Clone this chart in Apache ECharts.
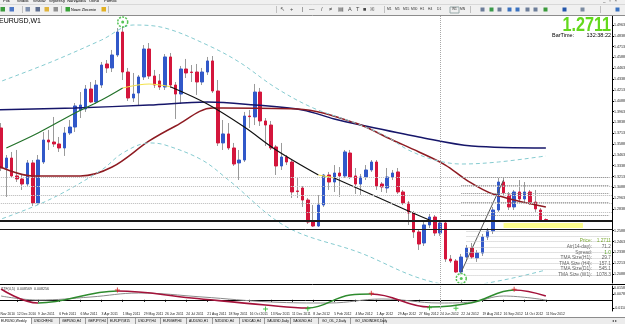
<!DOCTYPE html>
<html>
<head>
<meta charset="utf-8">
<title>EURUSD,W1</title>
<script src="https://cdn.jsdelivr.net/npm/echarts@6.0.0/dist/echarts.min.js"></script>
<style>
  html, body { margin: 0; padding: 0; background: #fff; overflow: hidden; }
  #main { width: 625px; height: 324px; }
</style>
</head>
<body>
<div id="main"></div>
<script>
// EURUSD weekly bars, first bar = week of 21 Nov 2010 (category 1)
const opens = [1.3774,1.3312,1.3427,1.3220,1.3185,1.3127,1.3370,1.2908,1.3381,1.3635,1.3612,1.3589,1.3543,1.3716,1.3785,1.3982,1.3993,1.4224,1.4074,1.4270,
  1.4513,1.4467,1.4617,1.4882,1.4420,1.4120,1.4178,1.4363,1.4686,1.4374,1.4317,1.4247,1.4594,1.4270,1.4166,1.4455,1.4420,1.4420,1.4305,1.4420,
  1.4548,1.4201,1.3601,1.3705,1.3543,1.3370,1.3404,1.3912,1.3901,1.4189,1.3855,1.3808,1.3555,1.3335,1.3439,1.3381,1.3047,1.3081,1.2942,1.2688,
  1.2642,1.2885,1.3231,1.3150,1.3254,1.3220,1.3485,1.3220,1.3127,1.3208,1.3289,1.3381,1.3127,1.3081,1.3208,1.3266,1.3035,1.2908,1.2792,1.2573,
  1.2446,1.2654,1.2746,1.2561,1.2677,1.2261,1.2238,1.2111,1.2284,1.2388,1.2273,1.2330,1.2515,1.2585,1.2827,1.3150,1.3000,1.2862,1.3035,1.2954,
  1.3035,1.2919,1.2827,1.2716];
const closes = [1.3312,1.3427,1.3220,1.3185,1.3127,1.3370,1.2908,1.3404,1.3635,1.3612,1.3589,1.3543,1.3716,1.3785,1.4028,1.4039,1.4224,1.4074,1.4270,1.4501,
  1.4467,1.4617,1.4882,1.4420,1.4120,1.4166,1.4363,1.4686,1.4374,1.4270,1.4247,1.4594,1.4270,1.4166,1.4455,1.4409,1.4415,1.4305,1.4420,1.4548,
  1.4201,1.3601,1.3705,1.3543,1.3358,1.3404,1.3912,1.3905,1.4189,1.3855,1.3808,1.3543,1.3335,1.3439,1.3381,1.3035,1.3040,1.2942,1.2688,1.2642,
  1.2885,1.3231,1.3150,1.3254,1.3220,1.3497,1.3208,1.3127,1.3208,1.3289,1.3381,1.3104,1.3093,1.3208,1.3254,1.3035,1.2908,1.2792,1.2573,1.2434,
  1.2654,1.2746,1.2561,1.2677,1.2261,1.2238,1.2111,1.2284,1.2388,1.2284,1.2330,1.2515,1.2585,1.2827,1.3150,1.3024,1.2862,1.3035,1.2954,1.3035,
  1.2919,1.2839,1.2711,1.2711];
const highs = [1.3831,1.3462,1.3497,1.3520,1.3231,1.3404,1.3404,1.3462,1.3728,1.3751,1.3901,1.3670,1.3785,1.3866,1.4062,1.4189,1.4270,1.4305,1.4328,1.4536,
  1.4559,1.4675,1.4928,1.4952,1.4467,1.4409,1.4386,1.4732,1.4755,1.4444,1.4397,1.4628,1.4640,1.4305,1.4490,1.4571,1.4501,1.4513,1.4467,1.4594,
  1.4605,1.4328,1.3866,1.3831,1.3601,1.3520,1.3959,1.3982,1.4282,1.4236,1.3889,1.3855,1.3578,1.3601,1.3462,1.3404,1.3208,1.3104,1.2966,1.2885,
  1.3000,1.3243,1.3266,1.3346,1.3323,1.3520,1.3520,1.3312,1.3243,1.3346,1.3404,1.3404,1.3150,1.3312,1.3289,1.3312,1.3058,1.2931,1.2816,1.2596,
  1.2688,1.2781,1.2769,1.2711,1.2700,1.2307,1.2261,1.2319,1.2423,1.2446,1.2365,1.2550,1.2619,1.2862,1.3197,1.3197,1.3035,1.3058,1.3173,1.3150,
  1.3058,1.3058,1.2850,1.2730];
const lows = [1.3277,1.2977,1.3197,1.3150,1.3058,1.3104,1.2873,1.2885,1.3358,1.3520,1.3555,1.3497,1.3451,1.3693,1.3728,1.3889,1.3959,1.4062,1.4051,1.4236,
  1.4409,1.4420,1.4594,1.4328,1.4086,1.4074,1.4028,1.4328,1.4340,1.4236,1.4213,1.4213,1.4236,1.3878,1.4051,1.4351,1.4305,1.4155,1.4270,1.4386,
  1.4178,1.3566,1.3520,1.3520,1.3335,1.3173,1.3381,1.3774,1.3808,1.3797,1.3566,1.3520,1.3231,1.3289,1.3346,1.2966,1.2966,1.2862,1.2665,1.2631,
  1.2631,1.2862,1.3058,1.3035,1.2977,1.3197,1.3185,1.3012,1.3000,1.3173,1.3266,1.3058,1.3035,1.3024,1.3173,1.3012,1.2885,1.2654,1.2504,1.2365,
  1.2411,1.2619,1.2527,1.2527,1.2227,1.2215,1.2100,1.2065,1.2250,1.2261,1.2227,1.2296,1.2480,1.2550,1.2804,1.2989,1.2827,1.2827,1.2919,1.2919,
  1.2885,1.2804,1.2688,1.2700];

// indicator lines, [week index, price]
const navyMA = [[0,1.3982],[15,1.4005],[29,1.4039],[40,1.4074],[49,1.4039],[58,1.3982],[64,1.3878],[69,1.3808],[80,1.3670],[90,1.3566],[104,1.3543]];
const maroonMA = [[0,1.3346],[7,1.3220],[16,1.3220],[22,1.3323],[29,1.3624],[34,1.3797],[41,1.4005],[43,1.4005],[57,1.3993],[68,1.3831],[75,1.3635],[80,1.3497],[85,1.3346],[89,1.3173],[94,1.3012],[104,1.2862]];
const upperBand = [[0,1.4290],[10,1.4524],[20,1.4790],[26,1.4963],[32,1.4928],[40,1.4732],[46,1.4536],[53,1.4236],[60,1.4005],[68,1.3831],[74,1.3670],[78,1.3520],[83,1.3404],[88,1.3358],[95,1.3381],[104,1.3451]];
const lowerBand = [[0,1.2700],[10,1.2942],[20,1.3289],[24,1.3485],[29,1.3601],[32,1.3578],[39,1.3404],[44,1.3173],[55,1.2631],[69,1.2330],[80,1.2042],[88,1.1950],[96,1.2019],[104,1.2134]];
const tmaUp = [[2,1.3543],[8,1.3716],[15,1.3947],[20,1.4097],[24,1.4236]];
const tmaFlat1 = [[24,1.4236],[29,1.4282],[33,1.4250]];
const tmaDown1 = [[33,1.4250],[40,1.4051],[47,1.3785],[53,1.3520],[61,1.3231]];
const tmaFlat2 = [[61,1.3231],[64,1.3197]];
const tmaDown2 = [[64,1.3197],[78,1.2816],[82,1.2711]];
const trendLine = [[88,1.2111],[96,1.3173]];

// horizontal levels and drawn objects
const fullLevels = [1.3231,1.3185,1.3139,1.3093,1.3047,1.3012,1.2966,1.2919,1.2862,1.2816,1.2769];
const rightLevels = [1.3208,1.3116,1.3024,1.2919,1.2769];
const boxLevels = [1.2585,1.2527,1.2469,1.2400,1.2342,1.2273,1.2215,1.2146,1.2077];
const blackLevels = [1.2706,1.2665,1.2627];
const zone = { from: 96, to: 111, top: 1.2677, bottom: 1.2619 };
const pivotMarks = [[24,1.4998],[88,1.2036]];
const separatorWeek = 84;
const lastPrice = 1.2711;

// lower pane oscillator
const fastKnots = [[1,0.0145],[8,-0.0043],[23,0.0118],[37,0.0024],[51,-0.0070],[59,-0.0110],[67,0.0064],[71,0.0078],[82,-0.0097],[90,-0.0040],[98,0.0131],[104,0.0051]];
const slowKnots = [[1,0.0051],[8,-0.0003],[18,0.0038],[27,0.0091],[39,0.0038],[52,-0.0029],[63,-0.0043],[73,0.0011],[84,-0.0043],[90,-0.0029],[96,0.0051],[104,-0.0003]];
const redCrosses = [[23,0.0131],[71,0.0088],[98,0.0140]];
const greenCrosses = [[51,-0.0124],[59,-0.0120],[82,-0.0108],[87,-0.0112]];

// axis ticks
const priceTicks = [1.4963,1.4838,1.4713,1.4588,1.4463,1.4338,1.4213,1.4088,1.3963,1.3838,1.3713,1.3588,1.3463,1.3338,1.3213,1.3088,1.2963,1.2838,1.2588,1.2463,1.2338,1.2213,1.2088];
const oscTicks = [0.0158,0.0078,-0.0110];

const FONT = 'Liberation Sans, Arial, sans-serif';
const BULL = '#3158c9', BEAR = '#d4163c', WICK = '#9a9a9a';

const N = 117;
const MON = ['Jan','Feb','Mar','Apr','May','Jun','Jul','Aug','Sep','Oct','Nov','Dec'];
const weeks = [];
for (let i = 0; i < N; i++) {
  const d = new Date(Date.UTC(2010, 10, 14) + i * 7 * 864e5);
  weeks.push(d.getUTCDate() + ' ' + MON[d.getUTCMonth()] + ' ' + d.getUTCFullYear());
}
const showDate = (i) => i % 4 === 0 && i <= 104;

const BLANK = ['-', '-', '-', '-'];
const wickData = [BLANK], bodyData = [BLANK];
opens.forEach((o, k) => {
  const c = closes[k];
  wickData.push([o, c, lows[k], highs[k]]);
  bodyData.push([o, c, Math.min(o, c), Math.max(o, c)]);
});

const curve = (name, pts, color, width, extra) => Object.assign({
  type: 'line', name: name, data: pts, smooth: 0.35, symbol: 'none', silent: true, z: 4,
  lineStyle: { color: color, width: width }
}, extra || {});
const holder = (name, z) => ({ type: 'line', name: name, data: [[116, 1.3]], symbol: 'none', silent: true, z: z, lineStyle: { opacity: 0 } });

const series = [];
// dotted levels (behind bars)
const lv = holder('levels', 1);
lv.markLine = {
  silent: true, symbol: ['none', 'none'], label: { show: false }, animation: false,
  lineStyle: { color: '#c4c4c4', type: [1, 1], width: 1 },
  data: [].concat(
    fullLevels.map(p => ({ yAxis: p })),
    rightLevels.map(p => [{ coord: [88, p], lineStyle: { color: '#8c8c8c', type: [1, 1], width: 1 } }, { coord: [116, p] }]),
    boxLevels.map(p => [{ coord: [89, p] }, { coord: [116, p] }]),
    [{ xAxis: separatorWeek, lineStyle: { color: '#a8a8a8', type: [1, 1], width: 1 } }]
  )
};
series.push(lv);

series.push({
  type: 'candlestick', name: 'wicks', data: wickData, barWidth: 0.5, silent: true, z: 2,
  itemStyle: { color: WICK, color0: WICK, borderColor: WICK, borderColor0: WICK, borderWidth: 1 }
});
series.push({
  type: 'candlestick', name: 'EURUSD', data: bodyData, barWidth: 3, silent: true, z: 3,
  itemStyle: { color: BULL, color0: BEAR, borderColor: BULL, borderColor0: BEAR, borderWidth: 1 },
  markLine: {
    silent: true, symbol: ['none', 'none'], animation: false,
    data: [{ yAxis: lastPrice, lineStyle: { opacity: 0 },
      label: { show: true, position: 'end', distance: 1, formatter: lastPrice.toFixed(5), backgroundColor: '#000',
        color: '#fff', fontSize: 4, fontFamily: FONT, padding: [1, 1, 0, 1] } }]
  }
});

series.push(curve('navy', navyMA, '#16166a', 1.5));
series.push(curve('maroon', maroonMA, '#8e1b22', 1.5));
series.push(curve('upper', upperBand, '#86cbd0', 1, { lineStyle: { color: '#86cbd0', width: 1, type: [4, 3] } }));
series.push(curve('lower', lowerBand, '#86cbd0', 1, { lineStyle: { color: '#86cbd0', width: 1, type: [4, 3] } }));
series.push(curve('tmaUp', tmaUp, '#23722a', 1.2));
series.push(curve('tmaFlat1', tmaFlat1, '#f2e24a', 1.2));
series.push(curve('tmaDown1', tmaDown1, '#111', 1.2));
series.push(curve('tmaFlat2', tmaFlat2, '#f2e24a', 1.2));
series.push(curve('tmaDown2', tmaDown2, '#111', 1.2));
series.push(curve('trend', trendLine, '#555', 1, { smooth: false }));

const sup = holder('support', 5);
sup.markLine = {
  silent: true, symbol: ['none', 'none'], label: { show: false }, animation: false,
  data: blackLevels.map((p, j) => ({ yAxis: p, lineStyle: { color: '#1a1a1a', width: j === 0 ? 2 : 1, type: 'solid' } }))
};
series.push(sup);

const zn = holder('zone', 6);
zn.markArea = {
  silent: true, itemStyle: { color: '#ffff8c' },
  data: [[{ coord: [zone.from, zone.top] }, { coord: [zone.to, zone.bottom] }]]
};
series.push(zn);

series.push({
  type: 'scatter', name: 'pivots', data: pivotMarks, symbol: 'circle', symbolSize: 10, silent: true, z: 7,
  itemStyle: { color: '#fff', borderColor: '#2cb52c', borderWidth: 1.5, borderType: [2, 1.2] }
});
series.push({ type: 'scatter', data: pivotMarks, symbolSize: 3, silent: true, z: 8, itemStyle: { color: '#2cb52c' } });

// lower pane
const sep2 = { type: 'line', xAxisIndex: 1, yAxisIndex: 1, data: [[116, 0]], symbol: 'none', silent: true, lineStyle: { opacity: 0 },
  markLine: { silent: true, symbol: ['none', 'none'], animation: false, label: { show: false },
    data: [{ xAxis: separatorWeek, lineStyle: { color: '#a8a8a8', type: [1, 1], width: 1 } }] } };
series.push(sep2);
series.push({
  type: 'line', name: 'slow', xAxisIndex: 1, yAxisIndex: 1, data: slowKnots, smooth: 0.4, symbol: 'none', silent: true, z: 3,
  lineStyle: { color: '#8a8a8a', width: 1 },
  markLine: { silent: true, symbol: ['none', 'none'], animation: false,
    data: [{ yAxis: slowKnots[slowKnots.length - 1][1], lineStyle: { opacity: 0 },
      label: { show: true, position: 'end', distance: 1, formatter: slowKnots[slowKnots.length - 1][1].toFixed(4),
        backgroundColor: '#c8c8c8', color: '#000', fontSize: 4, fontFamily: FONT, padding: [1, 1, 0, 1] } }] }
});
const fastIdx = series.length;
series.push({ type: 'line', name: 'fast', xAxisIndex: 1, yAxisIndex: 1, data: fastKnots, smooth: 0.4, symbol: 'none', silent: true, z: 4,
  lineStyle: { width: 1.6 } });
const PLUS = 'path://M2,0H3V2H5V3H3V5H2V3H0V2H2Z';
series.push({ type: 'scatter', xAxisIndex: 1, yAxisIndex: 1, data: redCrosses, symbol: PLUS, symbolSize: 5, silent: true, z: 6, itemStyle: { color: '#d11a1a' } });
series.push({ type: 'scatter', xAxisIndex: 1, yAxisIndex: 1, data: greenCrosses, symbol: PLUS, symbolSize: 5, silent: true, z: 6, itemStyle: { color: '#1fb51f' } });

const oscPieces = [];
for (let j = 0; j < fastKnots.length - 1; j++) {
  const up = fastKnots[j + 1][1] > fastKnots[j][1];
  const piece = { gte: fastKnots[j][0], color: up ? '#2e8b2e' : '#a4123a' };
  if (j === fastKnots.length - 2) piece.lte = fastKnots[j + 1][0]; else piece.lt = fastKnots[j + 1][0];
  oscPieces.push(piece);
}

// window chrome: menu, toolbar, labels, tabs
const T = (x, y, text, size, fill, extra) => ({
  type: 'text', x: x, y: y, z: 50, silent: true,
  style: Object.assign({ text: text, fontSize: size, fill: fill, fontFamily: FONT, textVerticalAlign: 'middle', verticalAlign: 'middle' }, extra || {})
});
const R = (x, y, w, h, fill, stroke) => ({ type: 'rect', z: 40, silent: true, shape: { x: x, y: y, width: w, height: h },
  style: { fill: fill, stroke: stroke || null, lineWidth: stroke ? 1 : 0 } });
const L = (x1, y1, x2, y2, stroke, w) => ({ type: 'line', z: 45, silent: true, shape: { x1: x1, y1: y1, x2: x2, y2: y2 }, style: { stroke: stroke, lineWidth: w || 1 } });

const g = [];
g.push(R(0, 0, 625, 15.5, '#f0f0f0'));
[['Plik', 3], ['Widok', 17], ['Wstaw', 33], ['Wykresy', 49], ['Narzędzia', 67], ['Okno', 89], ['Pomoc', 104]]
  .forEach(m => g.push(T(m[1], 0.8, m[0], 4.2, '#000')));
g.push(T(603, 0.8, '_   ▫   ×', 4.5, '#555'));
g.push(L(0, 4.5, 625, 4.5, '#d8d8d8'));
[[0, '#3b9b3b'], [9, '#4d77c6'], [25, '#7d8fae'], [35, '#5f6f8f'], [44, '#e0b43c'], [53, '#909090'], [65, '#38a238'], [101, '#e2b022']]
  .forEach(ic => g.push(R(ic[0] + 0.5, 7, 4.5, 4.5, ic[1])));
g.push(T(71, 9.5, 'Nowe Zlecenie', 3.8, '#000'));
[22, 61, 108, 276, 384, 470, 600].forEach(x => g.push(L(x + 0.5, 6, x + 0.5, 13, '#c0c0c0')));
[['↖', 280], ['+', 290], ['|', 302], ['—', 309], ['/', 321], ['≠', 329], ['▤', 338], ['A', 348], ['T', 356], ['■', 363], ['※', 370]]
  .forEach(ic => g.push(T(ic[1], 9.5, ic[0], 5.5, '#444')));
[['M1', 387], ['M5', 395], ['M15', 403], ['M30', 411], ['H1', 420], ['H4', 428], ['D1', 437], ['W1', 452], ['MN', 460]]
  .forEach(tf => g.push(T(tf[1], 9.5, tf[0], 3.3, '#333')));
g.push(R(450, 7, 9, 6, 'rgba(0,0,0,0)', '#9aa'));
[[480, '#6c7d99'], [489, '#3a9a4a'], [497, '#6c7d99'], [507, '#3a72c0'], [515, '#3a72c0'], [525, '#6c7d99'], [533, '#6c7d99'], [543, '#3a9a3a'], [562, '#2255aa'], [580, '#7a8aa0'], [615, '#3a72c0']]
  .forEach(ic => g.push(R(ic[0] + 0.5, 7.5, 4, 4, ic[1])));
g.push(L(0, 15.5, 625, 15.5, '#8c8c8c'));

g.push(T(-1, 21, 'EURUSD,W1', 7, '#000'));
g.push({ type: 'text', x: 611, y: 15.5, z: 50, silent: true, scaleX: 0.83,
  style: { text: '1.2711', fontSize: 19.5, fontWeight: 'bold', fill: '#63d91c', fontFamily: FONT,
    textAlign: 'right', align: 'right', textVerticalAlign: 'top', verticalAlign: 'top' } });
g.push(T(552, 35.5, 'BarTime:', 5.5, '#000'));
g.push(T(611, 35.5, '132:38:22', 5.5, '#000', { textAlign: 'right', align: 'right' }));

[['Price:', '1.2711', 241, '#7aa832', '#7aa832'], ['Atr(14-day):', '71.2', 247, '#666', '#666'], ['Spread:', '1.0', 253, '#6a6a6a', '#5aa02a'],
 ['TMA Size(H1):', '29.7', 258, '#666', '#666'], ['TMA Size (H4):', '157.1', 264, '#666', '#666'],
 ['TMA Size(D1):', '545.1', 269, '#666', '#666'], ['TMA Size (W1):', '1078.3', 275, '#666', '#666']]
  .forEach(r => {
    g.push(T(592, r[2], r[0], 4.8, r[3], { textAlign: 'right', align: 'right' }));
    g.push(T(611, r[2], r[1], 4.8, r[4], { textAlign: 'right', align: 'right' }));
  });

g.push(R(0, 283.5, 612, 2.5, '#fff'));
g.push(L(0, 284.5, 625, 284.5, '#000'));
g.push(T(1, 289, 'TTF(4,5)  0.008569  0.008256', 3.6, '#333'));

g.push(R(0, 317, 625, 7, '#ececec'));
g.push(L(0, 317.5, 625, 317.5, '#8c8c8c'));
g.push(R(0, 318, 31, 6, '#fff'));
[['EURUSD,Weekly', 1], ['USDCHF,H4', 34], ['GBPUSD,H4', 62], ['GBPJPY,H4', 88], ['EURJPY,M15', 110], ['USDJPY,H4', 138], ['EURGBP,H4', 163],
 ['AUDUSD,H1', 189], ['NZDUSD,H4', 215], ['USDCAD,H4', 242], ['XAUUSD,Daily', 267], ['XAGUSD,H4', 293], ['GO_OIL_2,Daily', 322], ['GO_USDINDEX,Daily', 355]]
  .forEach(t => g.push(T(t[1], 321, t[0], 3.3, '#000')));
[31, 59, 85, 107, 135, 160, 186, 212, 239, 264, 290, 318, 350, 383].forEach(x => g.push(L(x + 0.5, 318, x + 0.5, 324, '#9a9a9a')));
g.push(T(612, 321, '◂ ▸', 4, '#444'));

const chart = echarts.init(document.getElementById('main'), null, { renderer: 'canvas' });
chart.setOption({
  animation: false,
  backgroundColor: '#fff',
  textStyle: { fontFamily: FONT },
  grid: [
    { left: -6.9, right: 13, top: 16, height: 267, outerBoundsMode: 'none', containLabel: false },
    { left: -6.9, right: 13, top: 286, height: 25, outerBoundsMode: 'none', containLabel: false }
  ],
  xAxis: [
    { gridIndex: 0, type: 'category', data: weeks, boundaryGap: true,
      axisLine: { show: false }, axisTick: { show: false }, axisLabel: { show: false }, splitLine: { show: false } },
    { gridIndex: 1, type: 'category', data: weeks, boundaryGap: true,
      axisLine: { show: true, lineStyle: { color: '#000', width: 1 } },
      axisTick: { show: true, interval: (i) => showDate(i), alignWithLabel: true, length: 2, lineStyle: { color: '#000' } },
      axisLabel: { interval: (i) => showDate(i), align: 'left', fontSize: 3.4, color: '#222', margin: 2, fontFamily: FONT },
      splitLine: { show: false } }
  ],
  yAxis: [
    { gridIndex: 0, type: 'value', position: 'right', min: 1.19839, max: 1.5067, scale: true,
      axisLine: { show: true, lineStyle: { color: '#000' } }, splitLine: { show: false },
      axisTick: { show: true, length: 2, customValues: priceTicks, lineStyle: { color: '#000' } },
      axisLabel: { customValues: priceTicks, formatter: (v) => v.toFixed(5), fontSize: 3.6, color: '#222', margin: 2, fontFamily: FONT } },
    { gridIndex: 1, type: 'value', position: 'right', min: -0.015, max: 0.0185, scale: true,
      axisLine: { show: true, lineStyle: { color: '#000' } }, splitLine: { show: false },
      axisTick: { show: true, length: 2, customValues: oscTicks, lineStyle: { color: '#000' } },
      axisLabel: { customValues: oscTicks, formatter: (v) => v.toFixed(4), fontSize: 3.6, color: '#222', margin: 2, fontFamily: FONT } }
  ],
  visualMap: [{ type: 'piecewise', show: false, seriesIndex: fastIdx, dimension: 0, pieces: oscPieces, outOfRange: { color: '#a4123a' } }],
  series: series,
  graphic: g
});
</script>
</body>
</html>
